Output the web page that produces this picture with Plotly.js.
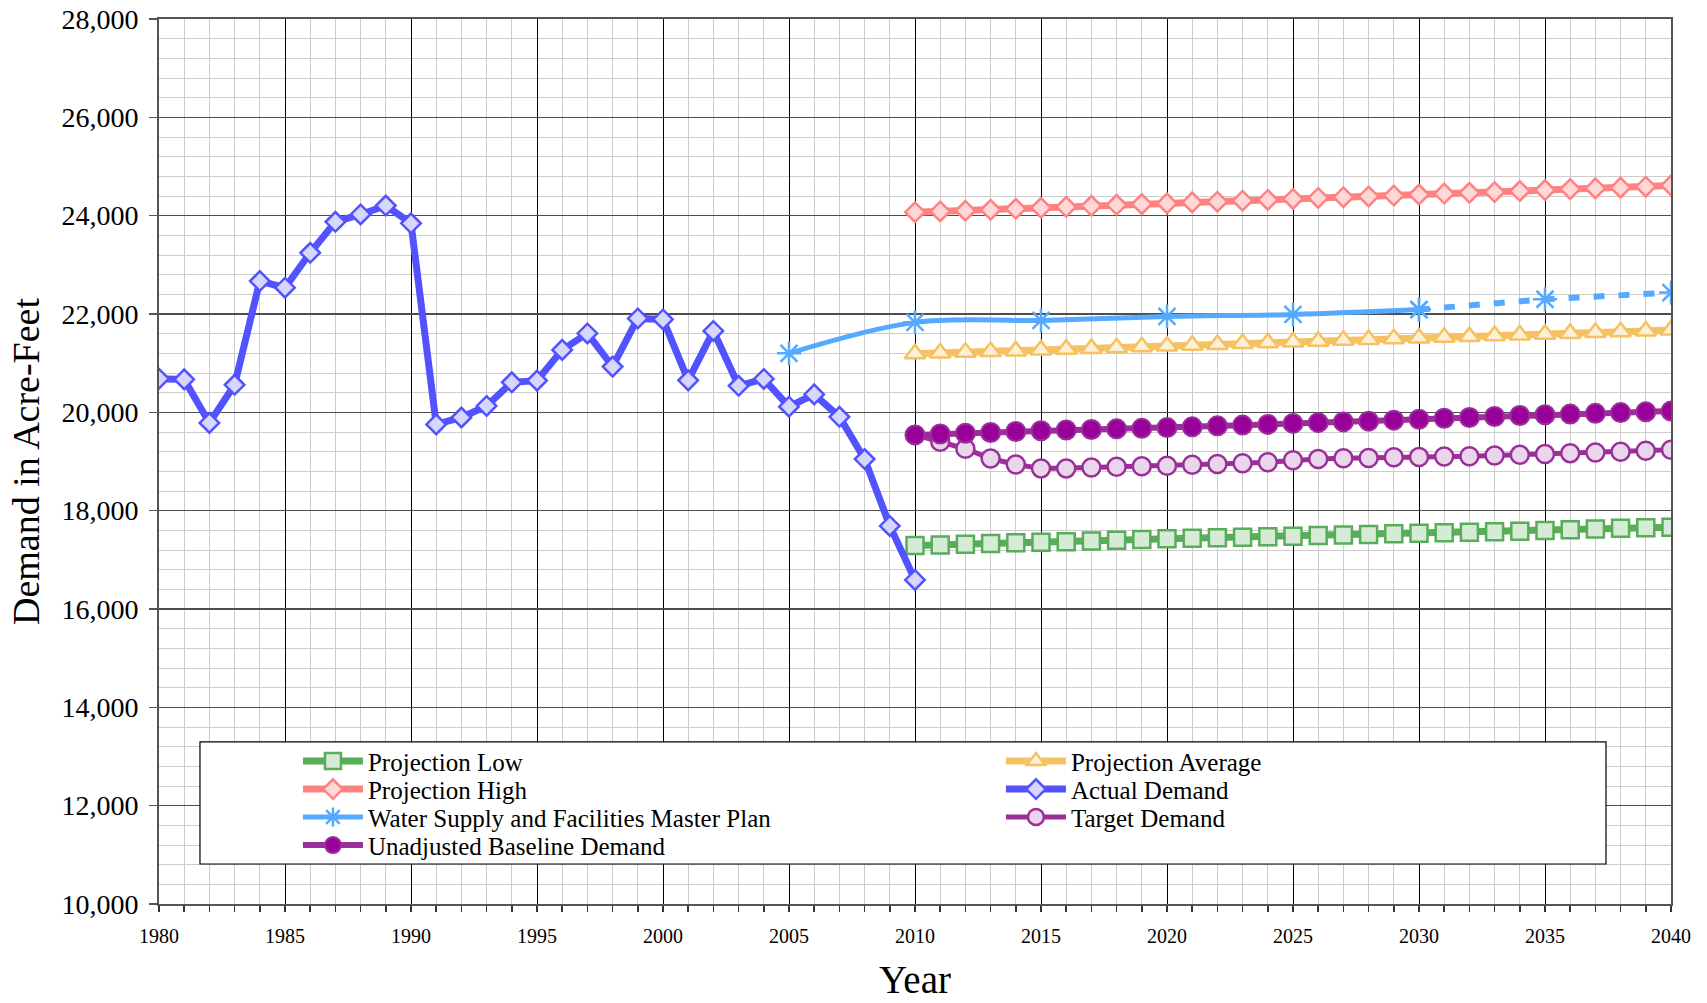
<!DOCTYPE html>
<html>
<head>
<meta charset="utf-8">
<script src="https://cdn.plot.ly/plotly-3.0.1.min.js"></script>
<style>html,body{margin:0;padding:0;background:#fff;}#chart{width:1707px;height:1003px;}</style>
</head>
<body>
<div id="chart"></div>
<script>
// ---------- data ----------
const actualYears = [1980,1981,1982,1983,1984,1985,1986,1987,1988,1989,1990,1991,1992,1993,1994,1995,1996,1997,1998,1999,2000,2001,2002,2003,2004,2005,2006,2007,2008,2009,2010];
const actualDemand = [20685,20670,19785,20560,22670,22535,23245,23875,24025,24205,23845,19755,19895,20130,20610,20645,21270,21605,20930,21910,21890,20650,21655,20540,20680,20115,20365,19910,19050,17690,16590];

const projYears = [2010,2011,2012,2013,2014,2015,2016,2017,2018,2019,2020,2021,2022,2023,2024,2025,2026,2027,2028,2029,2030,2031,2032,2033,2034,2035,2036,2037,2038,2039,2040];
const projLow = [17290,17300,17315,17330,17345,17360,17370,17385,17400,17415,17430,17440,17450,17460,17470,17480,17495,17505,17515,17530,17540,17550,17560,17570,17580,17595,17610,17625,17640,17650,17665];
const projAverage = [21190,21205,21220,21235,21250,21270,21285,21300,21315,21335,21350,21365,21380,21400,21415,21430,21445,21465,21480,21495,21510,21525,21540,21560,21575,21590,21605,21625,21640,21655,21675];
const projHigh = [24070,24085,24100,24120,24140,24160,24180,24200,24220,24235,24250,24270,24285,24305,24320,24340,24360,24375,24390,24410,24430,24450,24465,24480,24500,24520,24540,24555,24570,24590,24615];
const baselineDemand = [19540,19560,19575,19590,19610,19625,19640,19650,19665,19675,19690,19705,19725,19740,19755,19775,19790,19805,19820,19840,19860,19880,19895,19915,19935,19950,19965,19980,19995,20010,20025];
const targetDemand = [19540,19400,19260,19060,18940,18860,18860,18880,18895,18905,18915,18935,18950,18965,18985,19025,19050,19065,19070,19085,19090,19100,19105,19120,19135,19150,19170,19185,19200,19220,19240];

const masterPlanYears = [2005,2010,2015,2020,2025,2030];
const masterPlan = [21200,21830,21870,21950,21990,22090];
const masterPlanExtYears = [2030,2035,2040];
const masterPlanExt = [22090,22300,22435];

const names = {
  low: 'Projection Low',
  avg: 'Projection Average',
  high: 'Projection High',
  actual: 'Actual Demand',
  wsfmp: 'Water Supply and Facilities Master Plan',
  target: 'Target Demand',
  base: 'Unadjusted Baseline Demand'
};

// ---------- traces ----------
const traces = [
  {x: projYears, y: projLow, name: names.low, legend: 'legend', legendrank: 1, mode: 'lines+markers',
   line: {color: '#58ad58', width: 7},
   marker: {symbol: 'square', size: 17, color: '#d6ebd6', line: {color: '#58ad58', width: 2.5}}},
  {x: projYears, y: projHigh, name: names.high, legend: 'legend2', legendrank: 1, mode: 'lines+markers',
   line: {color: '#ff8282', width: 7},
   marker: {symbol: 'diamond', size: 15, color: '#ffd7d7', line: {color: '#ff8282', width: 2.5}}},
  {x: masterPlanYears, y: masterPlan, name: names.wsfmp, legend: 'legend3', legendrank: 1, mode: 'lines+markers',
   line: {color: '#55aaff', width: 5, shape: 'spline', smoothing: 1},
   marker: {symbol: 'asterisk-open', size: 20, color: '#55aaff', line: {color: '#55aaff', width: 2.5}}},
  {x: masterPlanExtYears, y: masterPlanExt, name: names.wsfmp, showlegend: false, legend: 'legend3', mode: 'lines+markers',
   line: {color: '#55aaff', width: 6, dash: '11px,14px'},
   marker: {symbol: 'asterisk-open', size: 20, color: '#55aaff', line: {color: '#55aaff', width: 2.5}}},
  {x: projYears, y: projAverage, name: names.avg, legend: 'legend', legendrank: 2, legendwidth: 400, mode: 'lines+markers',
   line: {color: '#f5c162', width: 7},
   marker: {symbol: 'triangle-up', size: 18, color: '#fdf0d6', line: {color: '#f5c162', width: 2.5}}},
  {x: projYears, y: targetDemand, name: names.target, legend: 'legend3', legendrank: 2, legendwidth: 400, mode: 'lines+markers',
   line: {color: '#9a2f9a', width: 5},
   marker: {symbol: 'circle', size: 18, color: '#ead6ea', line: {color: '#9a2f9a', width: 2.5}}},
  {x: projYears, y: baselineDemand, name: names.base, legend: 'legend4', legendrank: 1, mode: 'lines+markers',
   line: {color: '#9a2f9a', width: 6},
   marker: {symbol: 'circle', size: 19, color: '#990099', line: {color: '#9a2f9a', width: 2}}},
  {x: actualYears, y: actualDemand, name: names.actual, legend: 'legend2', legendrank: 2, legendwidth: 400, mode: 'lines+markers',
   line: {color: '#5252ff', width: 7},
   marker: {symbol: 'diamond', size: 15, color: '#d6d6ff', line: {color: '#5252ff', width: 2.5}}}
];

const serif = 'Liberation Serif, Times New Roman, serif';

function legendRow(yPos) {
  return {
    orientation: 'h',
    x: 0.0919, xanchor: 'left',
    y: yPos, yanchor: 'top',
    bgcolor: 'rgba(0,0,0,0)', borderwidth: 0,
    itemwidth: 60, entrywidth: 628,
    font: {family: serif, size: 25, color: '#000'},
    traceorder: 'normal'
  };
}

const layout = {
  width: 1707, height: 1003,
  margin: {l: 159, r: 36, t: 19, b: 99, autoexpand: false},
  paper_bgcolor: '#ffffff', plot_bgcolor: '#ffffff',
  font: {family: serif, color: '#000000'},
  showlegend: true,
  xaxis: {
    range: [1980, 2040], dtick: 5, tick0: 1980,
    ticks: 'outside', ticklen: 6, tickcolor: '#333', tickwidth: 1.5,
    tickfont: {family: serif, size: 20, color: '#000'},
    ticklabelstandoff: 7,
    showgrid: true, gridcolor: '#000000', gridwidth: 1,
    minor: {dtick: 1, showgrid: true, gridcolor: '#cccccc', gridwidth: 1, ticks: 'outside', ticklen: 6, tickcolor: '#333'},
    showline: true, linecolor: '#555', linewidth: 2, mirror: true,
    zeroline: false, automargin: false,
    title: {text: 'Year', font: {family: serif, size: 39, color: '#000'}, standoff: 20}
  },
  yaxis: {
    range: [10000, 28000], dtick: 2000, tick0: 10000,
    tickformat: ',d',
    ticks: 'outside', ticklen: 8, tickcolor: '#555', tickwidth: 1.5,
    tickfont: {family: serif, size: 28, color: '#000'},
    ticklabelstandoff: 5,
    showgrid: true, gridcolor: '#4d4d4d', gridwidth: 1.5,
    minor: {dtick: 400, showgrid: true, gridcolor: '#cccccc', gridwidth: 1},
    showline: true, linecolor: '#555', linewidth: 2, mirror: true,
    zeroline: false, automargin: false,
    title: {text: 'Demand in Acre-Feet', font: {family: serif, size: 38, color: '#000'}, standoff: 10}
  },
  legend: legendRow(0.1872),
  legend2: legendRow(0.1556),
  legend3: legendRow(0.1240),
  legend4: legendRow(0.0923),
  shapes: [
    {type: 'rect', xref: 'paper', yref: 'paper', x0: 0.0271, x1: 0.957, y0: 0.0452, y1: 0.1831,
     fillcolor: '#ffffff', line: {color: '#000000', width: 1.2}, layer: 'above'}
  ]
};

Plotly.newPlot('chart', traces, layout, {staticPlot: true, displayModeBar: false});
</script>
</body>
</html>
